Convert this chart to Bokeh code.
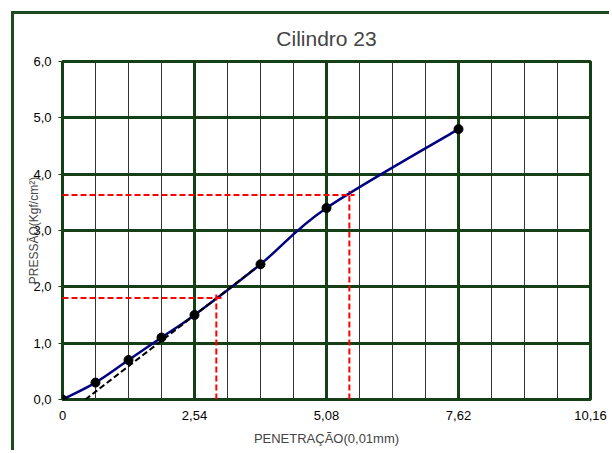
import numpy as np
from bokeh.plotting import figure
from bokeh.models import FixedTicker, Range1d
from bokeh.embed import file_html
from bokeh.resources import INLINE

# ---- data ----
penetration = [0.0, 0.635, 1.27, 1.905, 2.54, 3.81, 5.08, 7.62]
pressure = [0.0, 0.3, 0.7, 1.1, 1.5, 2.4, 3.4, 4.8]

tangent_x = [0.44, 3.81]
tangent_y = [0.0, 2.4]

corrected_x = [2.96, 5.52]
corrected_y = [1.80, 3.63]

x_ticks = [0, 2.54, 5.08, 7.62, 10.16]
x_tick_labels = ["0", "2,54", "5,08", "7,62", "10,16"]
x_minor = [0, 0.635, 1.27, 1.905, 2.54, 3.175, 3.81, 4.445, 5.08, 5.715,
           6.35, 6.985, 7.62, 8.255, 8.89, 9.525, 10.16]
y_ticks = [0, 1, 2, 3, 4, 5, 6]
y_tick_labels = ["0,0", "1,0", "2,0", "3,0", "4,0", "5,0", "6,0"]

GREEN = "#153f15"
FONT = "Liberation Sans"

p = figure(width=598, height=439,
           x_range=Range1d(0, 10.16), y_range=Range1d(0, 6),
           output_backend="svg", toolbar_location=None,
           min_border_left=48, min_border_right=22,
           min_border_top=47, min_border_bottom=54)
p.margin = (11, 0, 0, 11)
p.styles = {"border-left": "3px solid #1f4a1f", "border-top": "3px solid #1f4a1f"}

p.background_fill_color = "white"
p.border_fill_color = "white"
p.outline_line_color = GREEN
p.outline_line_width = 3

p.title.text = "Cilindro 23"
p.title.align = "center"
p.title.vertical_align = "top"
p.title.text_font = FONT
p.title.text_font_size = "21px"
p.title.text_font_style = "normal"
p.title.standoff = 20

# grids
p.xgrid.ticker = FixedTicker(ticks=x_ticks, minor_ticks=x_minor)
p.xgrid.grid_line_color = GREEN
p.xgrid.grid_line_width = 3
p.xgrid.minor_grid_line_color = "#333333"
p.xgrid.minor_grid_line_width = 1
p.ygrid.ticker = FixedTicker(ticks=y_ticks)
p.ygrid.grid_line_color = GREEN
p.ygrid.grid_line_width = 3

# axes
p.xaxis.ticker = FixedTicker(ticks=x_ticks)
p.xaxis.major_label_overrides = {t: l for t, l in zip(x_ticks, x_tick_labels)}
p.yaxis.ticker = FixedTicker(ticks=y_ticks)
p.yaxis.major_label_overrides = {t: l for t, l in zip(y_ticks, y_tick_labels)}
for ax in (p.xaxis, p.yaxis):
    ax.axis_line_color = None
    ax.minor_tick_line_color = None
    ax.major_label_text_font = FONT
    ax.major_label_text_font_size = "13px"
    ax.major_label_text_color = "black"
p.xaxis.major_tick_line_color = None
p.xaxis.major_label_standoff = 5
p.yaxis.major_tick_in = 0
p.yaxis.major_tick_out = 4
p.yaxis.major_tick_line_color = GREEN
p.yaxis.major_label_standoff = 7

p.xaxis.axis_label = "PENETRAÇÃO(0,01mm)"
p.xaxis.axis_label_text_font = FONT
p.xaxis.axis_label_text_font_size = "13px"
p.xaxis.axis_label_text_font_style = "normal"
p.xaxis.axis_label_standoff = 8

p.yaxis.axis_label = "PRESSÃO(Kgf/cm²)"
p.yaxis.axis_label_text_font = FONT
p.yaxis.axis_label_text_font_size = "12px"
p.yaxis.axis_label_text_font_style = "normal"
p.yaxis.axis_label_standoff = -11

# smooth curve (Catmull-Rom -> cubic Bezier) through the data points
px = np.array(penetration)
py = np.array(pressure)
n = len(px)
ext_x = np.concatenate([[px[0]], px, [px[-1]]])
ext_y = np.concatenate([[py[0]], py, [py[-1]]])
x0 = px[:-1]; y0 = py[:-1]; x1 = px[1:]; y1 = py[1:]
cx0 = x0 + (ext_x[2:n + 1] - ext_x[0:n - 1]) / 6.0
cy0 = y0 + (ext_y[2:n + 1] - ext_y[0:n - 1]) / 6.0
cx1 = x1 - (ext_x[3:n + 2] - ext_x[1:n]) / 6.0
cy1 = y1 - (ext_y[3:n + 2] - ext_y[1:n]) / 6.0
p.bezier(x0=x0, y0=y0, x1=x1, y1=y1, cx0=cx0, cy0=cy0, cx1=cx1, cy1=cy1,
         line_color="#000080", line_width=2.5)

# tangent (correction) line
p.line(tangent_x, tangent_y, line_color="black", line_width=2, line_dash="6 3")

# red guide lines
cxa = np.array(corrected_x); cya = np.array(corrected_y)
p.segment(x0=np.zeros_like(cxa), y0=cya, x1=cxa + 0.1, y1=cya,
          line_color="#ff0000", line_width=2, line_dash="6 3")
p.segment(x0=cxa, y0=np.zeros_like(cya), x1=cxa, y1=cya + 0.07,
          line_color="#ff0000", line_width=2, line_dash="6 3")

# data points
p.scatter(penetration, pressure, size=9, color="black")

open("out.html", "w").write(file_html(p, INLINE))
